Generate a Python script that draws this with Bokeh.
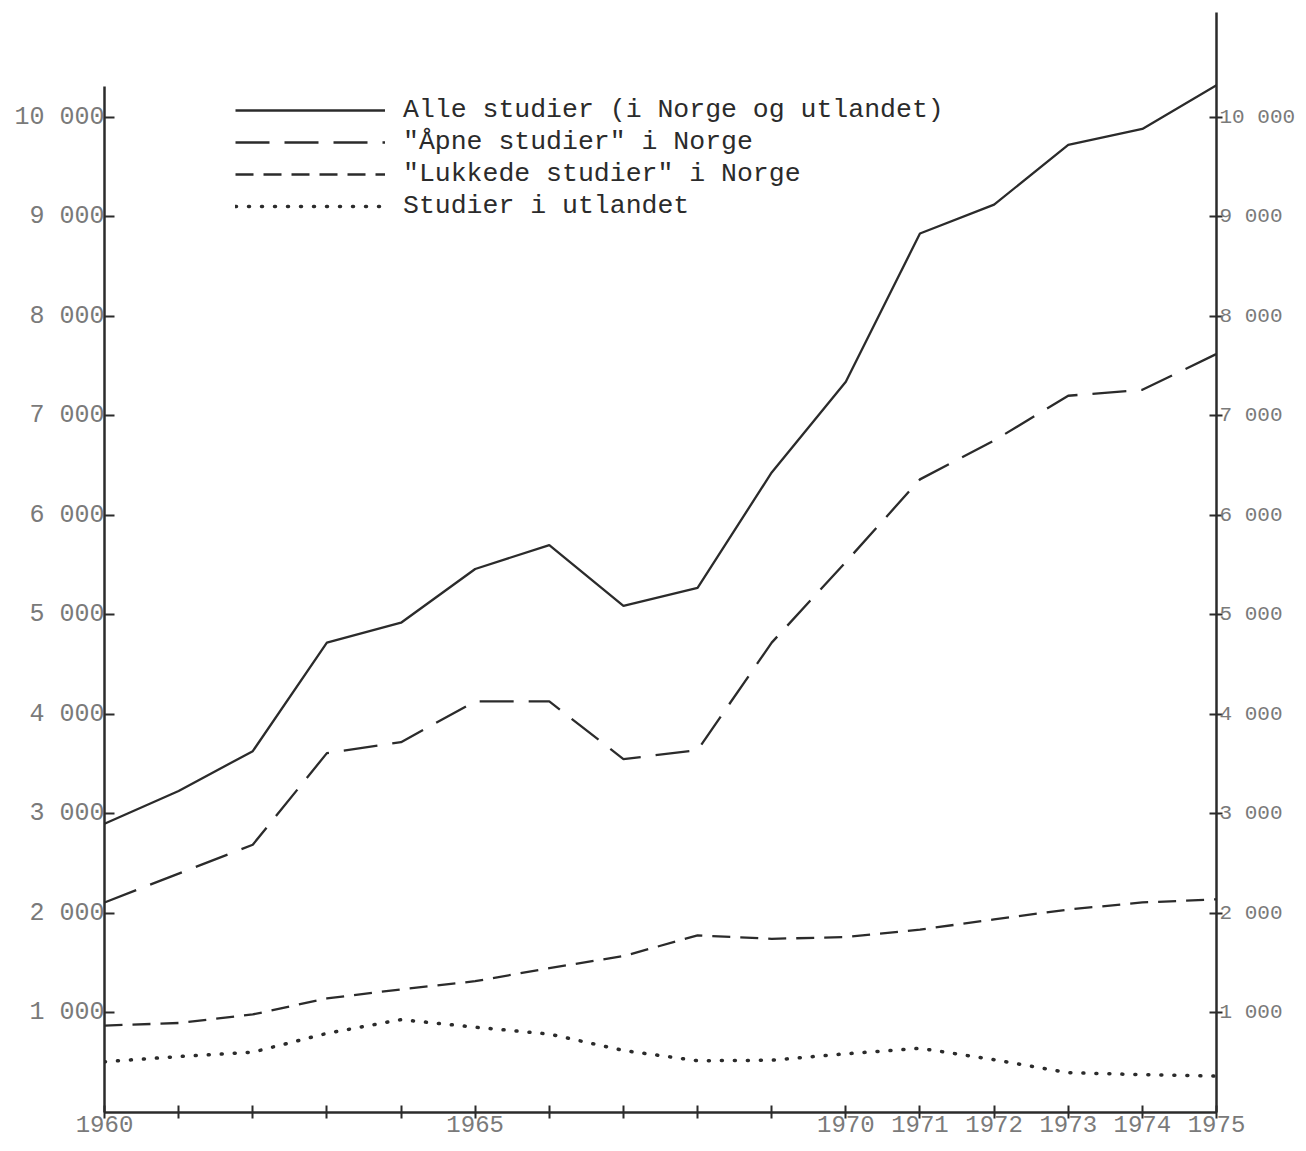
from bokeh.plotting import figure
from bokeh.models import Range1d, LinearAxis, FixedTicker, Legend, LegendItem, ColumnDataSource
from bokeh.embed import file_html
from bokeh.resources import INLINE

# ---- data ----
years = list(range(1960, 1976))
alle = [2900, 3230, 3630, 4720, 4920, 5460, 5700, 5090, 5270, 6430, 7340, 8830, 9120, 9720, 9880, 10320]
apne = [2110, 2400, 2690, 3610, 3720, 4130, 4130, 3550, 3640, 4720, 5530, 6360, 6750, 7200, 7260, 7620]
lukkede = [873, 899, 985, 1146, 1237, 1319, 1450, 1571, 1779, 1745, 1762, 1837, 1940, 2039, 2110, 2141]
utland = [510, 562, 606, 795, 933, 857, 788, 623, 520, 525, 590, 645, 530, 400, 380, 365]

series_labels = [
    "Alle studier (i Norge og utlandet)",
    "\"Åpne studier\" i Norge",
    "\"Lukkede studier\" i Norge",
    "Studier i utlandet",
]

y_ticks = [1000, 2000, 3000, 4000, 5000, 6000, 7000, 8000, 9000, 10000]
y_tick_labels = ["1 000", "2 000", "3 000", "4 000", "5 000", "6 000", "7 000", "8 000", "9 000", "10 000"]
x_ticks = years
x_tick_labels = ["1960", "", "", "", "", "1965", "", "", "", "", "1970", "1971", "1972", "1973", "1974", "1975"]

INK = "#2b2b2b"
LABEL = "#7a7a7a"
MONO = "Liberation Mono"

p = figure(width=1298, height=1143,
           x_range=Range1d(1960, 1975), y_range=Range1d(0, 11050),
           output_backend="svg", toolbar_location=None,
           x_axis_location=None, y_axis_location=None,
           min_border_left=104, min_border_right=81, min_border_top=12, min_border_bottom=31)
p.outline_line_color = None
p.grid.visible = False
p.background_fill_color = "white"

src = ColumnDataSource(dict(x=years, alle=alle, apne=apne, lukkede=lukkede, utland=utland))

r1 = p.line("x", "alle", source=src, line_color=INK, line_width=2.3)
r2 = p.line("x", "apne", source=src, line_color=INK, line_width=2.3, line_dash="34 15")
r3 = p.line("x", "lukkede", source=src, line_color=INK, line_width=2.3, line_dash="18 10")
r4 = p.line("x", "utland", source=src, line_color=INK, line_width=3.5, line_dash="1 12", line_cap="round")

def style(ax, size):
    ax.axis_line_color = INK
    ax.axis_line_width = 2.5
    ax.major_tick_line_color = INK
    ax.major_tick_line_width = 2
    ax.minor_tick_line_color = None
    ax.major_label_text_font = MONO
    ax.major_label_text_color = LABEL
    ax.major_label_text_font_size = size

# bottom axis
xax = LinearAxis(ticker=FixedTicker(ticks=x_ticks),
                 major_label_overrides={t: l for t, l in zip(x_ticks, x_tick_labels)})
style(xax, "24px")
xax.major_tick_in = 7
xax.major_tick_out = 6
xax.major_label_standoff = -3
p.add_layout(xax, "below")

# left axis
lax = LinearAxis(ticker=FixedTicker(ticks=y_ticks),
                 major_label_overrides={t: l for t, l in zip(y_ticks, y_tick_labels)},
                 bounds=(0, 10310))
style(lax, "25px")
lax.major_tick_in = 10
lax.major_tick_out = 0
lax.major_label_standoff = 0
p.add_layout(lax, "left")

# right axis
rax = LinearAxis(ticker=FixedTicker(ticks=y_ticks),
                 major_label_overrides={t: l for t, l in zip(y_ticks, y_tick_labels)})
style(rax, "21px")
rax.major_tick_in = 7
rax.major_tick_out = 6
rax.major_label_standoff = -3
p.add_layout(rax, "right")

legend = Legend(items=[LegendItem(label=series_labels[0], renderers=[r1]),
                       LegendItem(label=series_labels[1], renderers=[r2]),
                       LegendItem(label=series_labels[2], renderers=[r3]),
                       LegendItem(label=series_labels[3], renderers=[r4])],
                location=(131, 891))
legend.background_fill_alpha = 0
legend.border_line_color = None
legend.padding = 0
legend.margin = 0
legend.glyph_width = 150
legend.glyph_height = 26
legend.label_height = 26
legend.label_standoff = 18
legend.spacing = 2
legend.label_text_font = MONO
legend.label_text_font_size = "26.5px"
legend.label_text_color = INK
p.add_layout(legend)

open("out.html", "w").write(file_html(p, INLINE))
